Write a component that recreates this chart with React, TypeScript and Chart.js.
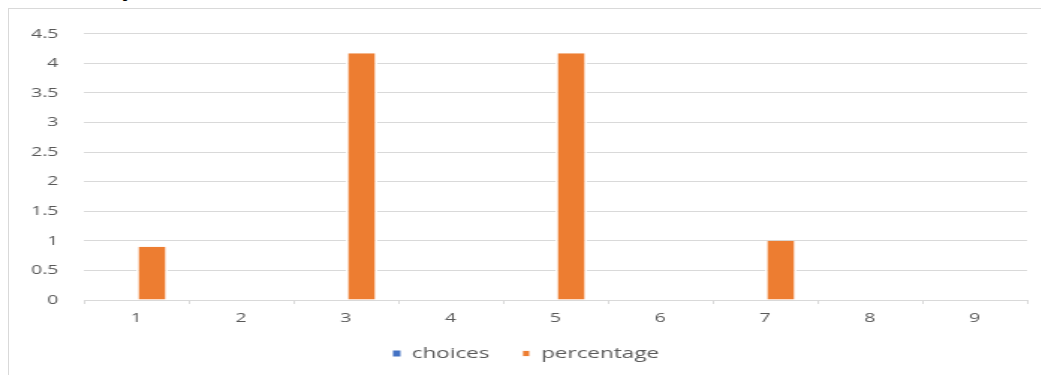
import React, { useEffect, useRef } from "react";
import { Chart, registerables } from "chart.js";

Chart.register(...registerables);

// Categories along the x axis
const categories: string[] = ["1", "2", "3", "4", "5", "6", "7", "8", "9"];

// Series values
const choicesValues: number[] = [0, 0, 0, 0, 0, 0, 0, 0, 0];
const percentageValues: number[] = [0.9, 0, 4.17, 0, 4.17, 0, 1, 0, 0];

// Value axis range
const yMin = 0;
const yMax = 4.5;
const yStep = 0.5;

const CANVAS_W = 694;
const CANVAS_H = 366;
const STRETCH = 1039 / CANVAS_W;

const TEXT = "#595959";
const GRID = "#d9d9d9";
const FONT = "'Open Sans', sans-serif";

export default function App() {
  const canvasRef = useRef<HTMLCanvasElement | null>(null);

  useEffect(() => {
    const canvas = canvasRef.current;
    if (!canvas) return;
    const chart = new Chart(canvas, {
      type: "bar",
      data: {
        labels: categories,
        datasets: [
          {
            label: "choices",
            data: choicesValues,
            backgroundColor: "#4472C4",
            borderWidth: 0,
            categoryPercentage: 0.6,
            barPercentage: 1,
          },
          {
            label: "percentage",
            data: percentageValues,
            backgroundColor: "#ED7D31",
            borderColor: "#ffffff",
            borderWidth: { left: 1.7, right: 1.7, top: 0, bottom: 0 },
            categoryPercentage: 0.6,
            barPercentage: 1,
          },
        ],
      },
      options: {
        responsive: false,
        animation: false,
        devicePixelRatio: 1,
        layout: { padding: { top: 17.7, right: 14, bottom: 4, left: 10.7 } },
        font: { family: FONT, size: 13 },
        color: TEXT,
        plugins: {
          tooltip: { enabled: false },
          title: { display: false },
          legend: {
            position: "bottom",
            labels: {
              boxWidth: 5,
              boxHeight: 6,
              padding: 22,
              color: TEXT,
              font: { family: FONT, size: 15 },
            },
          },
        },
        scales: {
          x: {
            offset: true,
            grid: {
              display: true,
              drawOnChartArea: false,
              drawTicks: true,
              tickLength: 4,
              color: GRID,
              offset: true,
            },
            border: { display: true, color: GRID },
            ticks: {
              color: TEXT,
              padding: 6,
              font: { family: FONT, size: 13 },
            },
            afterFit: (axis: any) => {
              axis.height = 24;
            },
          },
          y: {
            min: yMin,
            max: yMax,
            grid: { color: GRID, drawTicks: false },
            border: { display: false },
            ticks: {
              stepSize: yStep,
              color: TEXT,
              padding: 17,
              font: { family: FONT, size: 13 },
              callback: (value: any) => String(Number(value)),
            },
            afterFit: (axis: any) => {
              axis.width = 39.3;
            },
          },
        },
      },
    });
    return () => chart.destroy();
  }, []);

  return (
    <>
      <div
        style={{
          position: "absolute",
          left: 0,
          top: 0,
          width: 400,
          height: 7,
          overflow: "hidden",
        }}
      >
        <div
          style={{
            position: "absolute",
            left: 60,
            top: -17,
            whiteSpace: "nowrap",
            fontFamily: "'Liberation Serif', 'Times New Roman', serif",
            fontWeight: "bold",
            fontSize: 16,
            lineHeight: "18px",
            color: "#000",
          }}
        >
          of the respondents
        </div>
      </div>
      <div
        style={{
          position: "relative",
          width: 1039,
          height: CANVAS_H,
          borderLeft: `1px solid ${GRID}`,
          borderTop: `1px solid ${GRID}`,
          overflow: "hidden",
          background: "#fff",
        }}
      >
        <div
          style={{
            width: CANVAS_W,
            height: CANVAS_H,
            transform: `scaleX(${STRETCH})`,
            transformOrigin: "0 0",
          }}
        >
          <canvas ref={canvasRef} width={CANVAS_W} height={CANVAS_H} />
        </div>
      </div>
    </>
  );
}
